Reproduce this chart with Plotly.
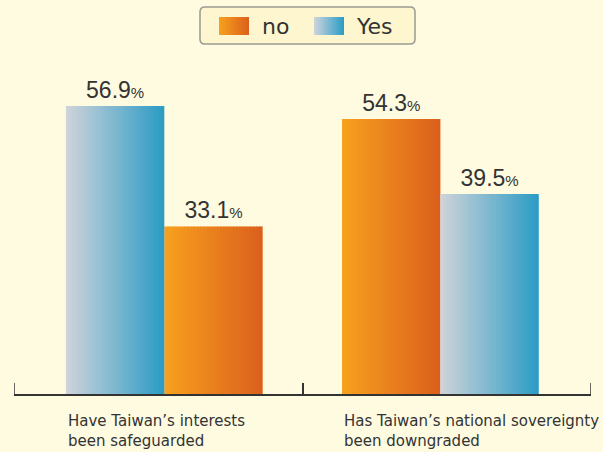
import plotly.graph_objects as go

# ---------------- data ----------------
categories = ["Have Taiwan's interests been safeguarded",
              "Has Taiwan's national sovereignty been downgraded"]
tick_labels = ["Have Taiwan\u2019s interests<br>been safeguarded",
               "Has Taiwan\u2019s national sovereignty<br>been downgraded"]
series_names = ["no", "Yes"]
no_values = [33.1, 54.3]
yes_values = [56.9, 39.5]

# ---------------- style ----------------
W, H = 603, 452
ML, MR, MT, MB = 14, 12, 70, 58
PW, PH = W - ML - MR, H - MT - MB
BG = "#FEFBE1"
TXT = "#333333"
BAR_W = 0.341
# left offsets of each series' bar within each category (layout only)
offsets = {"no": [0.021, -0.363], "Yes": [-0.32, -0.022]}
grad = {"no": ((247, 161, 30), (219, 95, 29)),
        "Yes": ((208, 212, 218), (42, 155, 197))}
values = {"no": no_values, "Yes": yes_values}
N = 30


def mix(c0, c1, t):
    return "rgb(%d,%d,%d)" % tuple(round(a + (b - a) * t) for a, b in zip(c0, c1))


def px2paper(px, py):
    return (px - ML) / PW, (H - MB - py) / PH


fig = go.Figure()

# gradient bars drawn as thin slices through the bar trace
for s in series_names:
    c0, c1 = grad[s]
    sw = BAR_W / N
    for i in range(N):
        w = sw + (0.003 if i < N - 1 else 0)
        fig.add_trace(go.Bar(
            x=categories, y=values[s],
            width=[w, w],
            offset=[o + i * sw for o in offsets[s]],
            marker=dict(color=mix(c0, c1, (i + 0.5) / N), line=dict(width=0)),
            showlegend=False, hoverinfo="skip", name=s))
    # transparent bar carrying the value labels
    fig.add_trace(go.Bar(
        x=categories, y=values[s], width=[BAR_W, BAR_W], offset=offsets[s],
        marker=dict(color="rgba(0,0,0,0)", line=dict(width=0)),
        texttemplate="%{y:.1f}<span style='font-size:15px'>%</span>",
        textposition="outside", cliponaxis=False,
        textfont=dict(family="Liberation Sans", size=23, color=TXT),
        showlegend=False, name=s))

shapes = []
annotations = []

# edge ticks of the category axis
for xb in (-0.5, 1.5):
    shapes.append(dict(type="line", xref="x", yref="paper", x0=xb, x1=xb,
                       y0=0, y1=11 / PH, line=dict(color=TXT, width=1.5)))

# category labels, left aligned at the group's left edge
for k, lab in enumerate(tick_labels):
    left = min(offsets["no"][k], offsets["Yes"][k])
    annotations.append(dict(
        x=k + left, xref="x", xanchor="left",
        y=px2paper(0, 410)[1], yref="paper", yanchor="top",
        text=lab, align="left", showarrow=False,
        font=dict(family="DejaVu Sans", size=15, color=TXT)))

# custom legend box (rounded)
bx0, bx1, by0, by1, r = 200, 415, 7, 44, 5
def P(x, y):
    a, b = px2paper(x, y)
    return "%f,%f" % (a, b)
path = ("M " + P(bx0 + r, by0) + " L " + P(bx1 - r, by0) +
        " Q " + P(bx1, by0) + " " + P(bx1, by0 + r) +
        " L " + P(bx1, by1 - r) + " Q " + P(bx1, by1) + " " + P(bx1 - r, by1) +
        " L " + P(bx0 + r, by1) + " Q " + P(bx0, by1) + " " + P(bx0, by1 - r) +
        " L " + P(bx0, by0 + r) + " Q " + P(bx0, by0) + " " + P(bx0 + r, by0) + " Z")
shapes.append(dict(type="path", path=path, xref="paper", yref="paper",
                   fillcolor="#FEF6CE", line=dict(color="#9A9A90", width=1.5)))

swatch_x = {"no": 219, "Yes": 314}
text_x = {"no": 260, "Yes": 354}
for s in series_names:
    c0, c1 = grad[s]
    n = 15
    for i in range(n):
        xa = swatch_x[s] + 30 * i / n
        xb = swatch_x[s] + 30 * (i + 1) / n + (0.4 if i < n - 1 else 0)
        p0 = px2paper(xa, 35)
        p1 = px2paper(xb, 17)
        shapes.append(dict(type="rect", xref="paper", yref="paper",
                           x0=p0[0], y0=p0[1], x1=p1[0], y1=p1[1],
                           fillcolor=mix(c0, c1, (i + 0.5) / n), line=dict(width=0),
                           layer="above"))
    tx, ty = px2paper(text_x[s], 26)
    annotations.append(dict(x=tx, y=ty, xref="paper", yref="paper",
                            xanchor="left", yanchor="middle", text=s, showarrow=False,
                            font=dict(family="DejaVu Sans", size=22, color=TXT)))

fig.update_layout(
    width=W, height=H,
    margin=dict(l=ML, r=MR, t=MT, b=MB, pad=0),
    paper_bgcolor=BG, plot_bgcolor=BG,
    barmode="overlay", showlegend=False,
    shapes=shapes, annotations=annotations,
    xaxis=dict(type="category", range=[-0.5, 1.5], showline=True,
               linecolor=TXT, linewidth=1.5, ticks="inside", ticklen=11,
               tickwidth=1.5, tickcolor=TXT, tickson="boundaries",
               showticklabels=False, showgrid=False, zeroline=False, fixedrange=True),
    yaxis=dict(range=[0, 64], visible=False, showgrid=False, zeroline=False,
               fixedrange=True),
)

fig.write_html("out.html", config={"displayModeBar": False},
               post_script="document.body.style.margin='0';document.body.style.overflow='hidden';")
